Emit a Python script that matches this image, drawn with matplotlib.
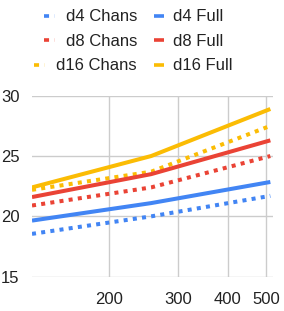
import matplotlib
matplotlib.use("Agg")
import matplotlib.pyplot as plt
from matplotlib.lines import Line2D
from matplotlib.ticker import FixedLocator, NullLocator, FixedFormatter

plt.rcParams['font.family'] = ['Liberation Sans', 'DejaVu Sans']

# data
sizes = [128, 256, 512]
d4_chans = [18.55, 20.0, 21.7]
d8_chans = [20.9, 22.4, 25.0]
d16_chans = [22.2, 23.7, 27.5]
d4_full = [19.65, 21.1, 22.85]
d8_full = [21.6, 23.5, 26.3]
d16_full = [22.4, 25.0, 28.9]
x_ticks = [200, 300, 400, 500]
y_ticks = [15, 20, 25, 30]

blue = '#4285F4'
red = '#EA4335'
yellow = '#FBBC04'

W, H = 284, 311
fig = plt.figure(figsize=(W / 100, H / 100), dpi=100)
ax = fig.add_axes([32 / W, 1 - 276.7 / H, (273 - 32) / W, (276.7 - 95.7) / H])

lw = 2.9
# dotted series first, solid ones on top
for vals, col in [(d4_chans, blue), (d8_chans, red), (d16_chans, yellow)]:
    ax.plot(sizes, vals, color=col, lw=lw, dashes=(1, 1.3), dash_capstyle='butt', zorder=3)
for vals, col in [(d4_full, blue), (d8_full, red), (d16_full, yellow)]:
    ax.plot(sizes, vals, color=col, lw=lw, solid_capstyle='butt', zorder=4)

ax.set_xscale('log')
ax.set_xlim(128, 520)
ax.set_ylim(15, 30)
ax.xaxis.set_major_locator(FixedLocator(x_ticks))
ax.xaxis.set_major_formatter(FixedFormatter([str(t) for t in x_ticks]))
ax.xaxis.set_minor_locator(NullLocator())
ax.set_yticks(y_ticks)
ax.grid(True, color='#cccccc', lw=1)
ax.set_axisbelow(True)
for s in ax.spines.values():
    s.set_visible(False)
ax.tick_params(length=0, labelsize=12, colors='#222222')
ax.tick_params(axis='x', pad=11)
ax.tick_params(axis='y', pad=9)

# legend drawn by hand, two columns
rows = [
    ('d4 Chans', 'd4 Full', blue),
    ('d8 Chans', 'd8 Full', red),
    ('d16 Chans', 'd16 Full', yellow),
]
baselines = [21, 45.5, 70]
fig.canvas.draw()
r = fig.canvas.get_renderer()
for (lab1, lab2, col), b in zip(rows, baselines):
    t1 = fig.text(137 / W, 1 - b / H, lab1, ha='right', va='baseline', fontsize=12, color='#222222')
    fig.text(173 / W, 1 - b / H, lab2, ha='left', va='baseline', fontsize=12, color='#222222')
    bb = t1.get_window_extent(renderer=r)
    x_end = bb.x0 - 11
    yc = 1 - (b - 5.5) / H
    fig.add_artist(Line2D([(x_end - 11) / W, x_end / W], [yc, yc], transform=fig.transFigure,
                          color=col, lw=2.6, dashes=(1.4, 1.6), dash_capstyle='butt'))
    fig.add_artist(Line2D([154 / W, 164 / W], [yc, yc], transform=fig.transFigure,
                          color=col, lw=2.6, solid_capstyle='butt'))

fig.savefig('out.png', dpi=100)
